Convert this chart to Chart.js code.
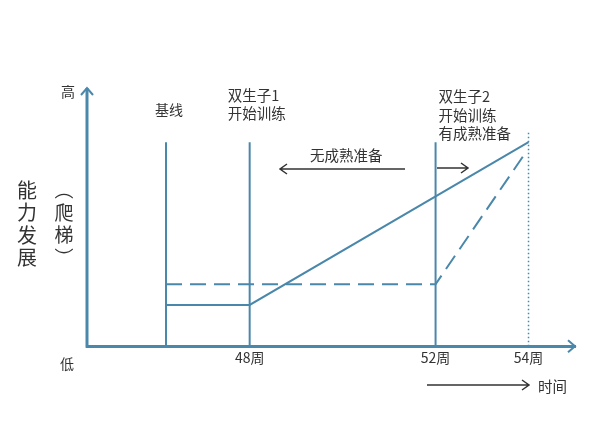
<!DOCTYPE html>
<html>
<head>
<meta charset="utf-8">
<script src="https://cdn.jsdelivr.net/npm/chart.js@4"></script>
<style>
  html, body { margin: 0; padding: 0; background: #fff; }
  #wrap { width: 595px; height: 448px; }
</style>
</head>
<body>
<div id="wrap"><canvas id="chart"></canvas></div>
<script>
// weeks on the x axis, ability level 0..100 on the y axis
const weekTicks = [48, 52, 54];
const baselineWeek = 46.2;
const markerTop = 79;
const twin1Weeks = [46.2, 48, 54];
const twin1Level = [16, 16, 79];
const twin2Weeks = [46.2, 52, 53.9];
const twin2Level = [24, 24, 74];
const endLine = [54, 83];

const blue = '#4a88ab';
const ink = '#333333';
const font = '"Noto Sans CJK SC", "Noto Sans", sans-serif';

function pts(xs, ys) {
  return xs.map((x, i) => ({ x: x, y: ys[i] }));
}
function vline(x, top) {
  return [{ x: x, y: 0 }, { x: x, y: top }];
}

const lineStyle = { borderColor: blue, borderWidth: 2, pointRadius: 0, fill: false, tension: 0 };

const annotate = {
  id: 'annotate',
  afterDraw(chart) {
    const c = chart.ctx;
    const a = chart.chartArea;
    const xs = chart.scales.x;
    c.save();
    // y axis + arrow heads
    c.strokeStyle = blue;
    c.lineWidth = 3;
    c.beginPath();
    c.moveTo(a.left, a.bottom + 1.5);
    c.lineTo(a.left, a.top);
    c.stroke();
    c.lineWidth = 2;
    c.beginPath();
    c.moveTo(a.left - 6, a.top + 7);
    c.lineTo(a.left, a.top);
    c.lineTo(a.left + 6, a.top + 7);
    c.stroke();
    c.beginPath();
    c.moveTo(a.right - 7, a.bottom - 6);
    c.lineTo(a.right, a.bottom);
    c.lineTo(a.right - 7, a.bottom + 6);
    c.stroke();

    // text
    c.fillStyle = ink;
    c.textBaseline = 'middle';
    c.font = '14px ' + font;
    c.textAlign = 'center';
    c.fillText('高', a.left - 19, a.top + 4);
    c.fillText('低', a.left - 20, a.bottom + 17);
    c.fillText('基线', xs.getPixelForValue(baselineWeek) + 3, 110);
    c.textAlign = 'left';
    const x48 = xs.getPixelForValue(48);
    c.font = '14.5px ' + font;
    c.fillText('双生子1', x48 - 22, 95);
    c.fillText('开始训练', x48 - 22, 113);
    const x52 = xs.getPixelForValue(52);
    c.fillText('双生子2', x52 + 3, 96);
    c.fillText('开始训练', x52 + 3, 115);
    c.fillText('有成熟准备', x52 + 3, 133);
    c.fillText('无成熟准备', 310, 155);
    c.fillText('时间', 538, 386);

    // vertical y title
    c.font = '20px ' + font;
    c.textAlign = 'center';
    ['能', '力', '发', '展'].forEach((ch, i) => c.fillText(ch, 27, 190 + i * 22.5));
    c.font = '19px ' + font;
    ['︵', '爬', '梯', '︶'].forEach((ch, i) => c.fillText(ch, 64, 190 + i * 22.5));

    // black arrows
    c.strokeStyle = ink;
    c.lineWidth = 1.5;
    function arrow(x1, x2, y) {
      const d = x2 > x1 ? 1 : -1;
      c.beginPath();
      c.moveTo(x1, y);
      c.lineTo(x2, y);
      c.moveTo(x2 - d * 7, y - 5);
      c.lineTo(x2, y);
      c.lineTo(x2 - d * 7, y + 5);
      c.stroke();
    }
    arrow(405, 280, 169);
    arrow(437, 468, 168);
    arrow(427, 529, 385);
    c.restore();
  }
};

new Chart(document.getElementById('chart'), {
  type: 'line',
  data: {
    datasets: [
      Object.assign({ data: vline(baselineWeek, markerTop) }, lineStyle),
      Object.assign({ data: vline(48, markerTop) }, lineStyle),
      Object.assign({ data: vline(52, markerTop) }, lineStyle),
      Object.assign({ data: vline(endLine[0], endLine[1]) }, lineStyle, { borderWidth: 1.5, borderDash: [1.5, 2.5] }),
      Object.assign({ label: '双生子1', data: pts(twin1Weeks, twin1Level) }, lineStyle),
      Object.assign({ label: '双生子2', data: pts(twin2Weeks, twin2Level) }, lineStyle, { borderDash: [16, 8] })
    ]
  },
  options: {
    responsive: true,
    maintainAspectRatio: false,
    animation: false,
    layout: { padding: { left: 87, right: 20, top: 88, bottom: 79 } },
    plugins: { legend: { display: false }, tooltip: { enabled: false } },
    scales: {
      x: {
        type: 'linear',
        min: 44.5,
        max: 55,
        afterBuildTicks: s => { s.ticks = weekTicks.map(v => ({ value: v })); },
        ticks: {
          color: ink,
          padding: 3,
          font: { family: font, size: 14 },
          callback: v => v + '周'
        },
        grid: { display: false, drawTicks: false },
        border: { color: blue, width: 3 }
      },
      y: {
        display: false,
        min: 0,
        max: 100
      }
    }
  },
  plugins: [annotate]
});
</script>
</body>
</html>
